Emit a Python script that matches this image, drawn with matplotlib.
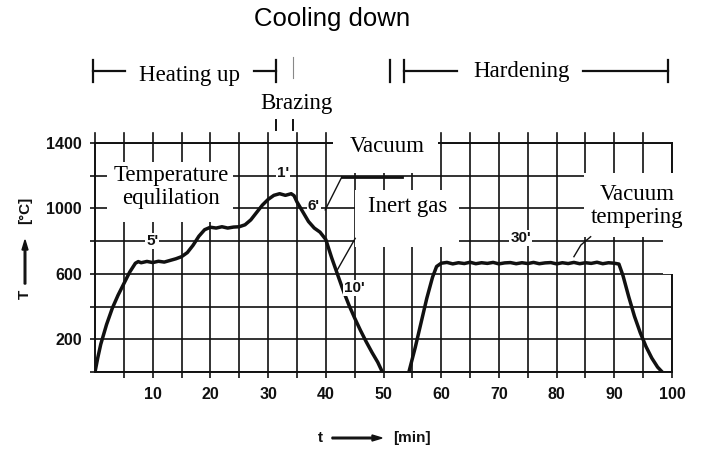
import matplotlib
matplotlib.use("Agg")
import matplotlib.pyplot as plt
from matplotlib.patches import Rectangle, FancyArrow
from matplotlib.ticker import FixedLocator, NullFormatter
from matplotlib.font_manager import FontProperties

# ---------------- data ----------------
brazing_t = [0, 0.5, 1, 2, 3, 4, 5, 6, 7, 7.5, 8, 9, 10, 11, 12, 13, 14, 15, 16, 17,
             18, 19, 20, 21, 22, 23, 24, 25, 26, 27, 28, 29, 30, 31, 32, 33, 34, 34.5,
             35, 36, 37, 38, 39, 40, 41, 42, 43, 44, 45, 46, 47, 48, 49, 49.8]
brazing_T = [0, 90, 170, 290, 390, 470, 540, 610, 665, 675, 668, 676, 669, 677, 672, 682,
             692, 705, 730, 775, 830, 870, 885, 880, 888, 880, 886, 888, 900, 930, 975,
             1020, 1055, 1080, 1090, 1080, 1090, 1078, 1040, 980, 920, 880, 855, 810,
             700, 600, 500, 410, 330, 255, 185, 120, 60, 0]

hardening_t = [54.4, 55.5, 56.5, 57.5, 58.5, 59.2, 60, 61, 62, 63, 64, 65, 66, 67, 68,
               69, 70, 71, 72, 73, 74, 75, 76, 77, 78, 79, 80, 81, 82, 83, 84, 85, 86,
               87, 88, 89, 90, 90.8, 91.5, 92.5, 93.5, 94.5, 95.5, 96.5, 97.5, 98.3]
hardening_T = [0, 150, 300, 450, 580, 645, 665, 670, 661, 668, 663, 671, 662, 668, 664,
               670, 661, 667, 669, 662, 668, 663, 670, 662, 667, 669, 661, 668, 663, 670,
               662, 668, 664, 671, 662, 668, 665, 660, 590, 460, 340, 240, 155, 85, 30, 0]

x_labeled = [10, 20, 30, 40, 50, 60, 70, 80, 90, 100]
x_minor = [5, 15, 25, 35, 45, 55, 65, 75, 85, 95]
y_labeled = [200, 600, 1000, 1400]
y_minor = [0, 400, 800, 1200]

# phase brackets (minutes)
heat_start, heat_end = -0.35, 31.3
braze_marks = [31.4, 34.3]
cool_start, cool_end = 34.4, 51.2
hard_start, hard_end = 53.5, 99.3

# duration labels (minutes, °C)
dur_labels = ["1'", "5'", "6'", "10'", "30'"]
dur_t = [32.6, 9.9, 37.9, 45.0, 73.8]
dur_T = [1215, 800, 1015, 513, 820]

# ---------------- figure ----------------
W, H = 706, 454
fig = plt.figure(figsize=(W / 100, H / 100), dpi=100)
ax = fig.add_axes([95 / W, 82 / H, 577 / W, 229 / H])
ax.set_xlim(0, 100)
ax.set_ylim(0, 1400)

ink = "#111111"
ax.xaxis.set_major_locator(FixedLocator(x_labeled))
ax.xaxis.set_minor_locator(FixedLocator(x_minor))
ax.yaxis.set_major_locator(FixedLocator(y_labeled))
ax.yaxis.set_minor_locator(FixedLocator(y_minor))
ax.yaxis.set_minor_formatter(NullFormatter())
ax.xaxis.set_minor_formatter(NullFormatter())
ax.grid(True, which="both", color=ink, linewidth=1.2, zorder=1)
ax.set_axisbelow(True)
for s in ax.spines.values():
    s.set_color(ink)
    s.set_linewidth(1.4)

tick_font = FontProperties(family="Liberation Sans", weight="bold", size=11.5)
ax.tick_params(axis="x", which="both", direction="out", length=4.5, width=1.2,
               color=ink, pad=6)
ax.tick_params(axis="y", which="both", direction="out", length=3.8, width=1.2,
               color=ink, pad=5.5)
for lab in ax.get_xticklabels() + ax.get_yticklabels():
    lab.set_fontproperties(tick_font)
    lab.set_color(ink)


def Yp(py):  # figure pixel row -> data T
    return (372 - py) * (1400 / 229)


# grid protrusions above the top edge
for xv in sorted(x_labeled + x_minor):
    if xv < 100:
        ax.plot([xv, xv], [1400, Yp(133)], color=ink, lw=1.2, clip_on=False, zorder=1)
ax.plot([0, 0], [1400, Yp(133)], color=ink, lw=1.2, clip_on=False, zorder=1)

# curves
ax.plot(brazing_t, brazing_T, color=ink, lw=2.5, zorder=4, solid_joinstyle="round")
ax.plot(hardening_t, hardening_T, color=ink, lw=2.5, zorder=4, solid_joinstyle="round")

serif = dict(family="Liberation Serif", size=16.5, color="black")


def box(x0, x1, y0, y1):
    ax.add_patch(Rectangle((x0, y0), x1 - x0, y1 - y0, facecolor="white",
                           edgecolor="none", zorder=3, clip_on=False))


# white label boxes
box(2.1, 24.0, 917, 1285)
box(41.3, 59.5, 1217, 1560)
box(45.1, 63.0, 764, 1113)
box(84.7, 102.4, 825, 1217)
box(98.5, 102.4, 600, 870)

ax.text(13.2, 1131, "Temperature\nequlilation", ha="center", va="center",
        linespacing=1.15, zorder=5, **serif)
ax.text(50.7, 1376, "Vacuum", ha="center", va="center", zorder=5, **serif)
ax.text(54.2, 1009, "Inert gas", ha="center", va="center", zorder=5, **serif)
ax.text(93.9, 1015, "Vacuum\ntempering", ha="center", va="center",
        linespacing=1.15, zorder=5, clip_on=False, **serif)

# pointer lines
ax.plot([39.9, 42.8], [991, 1194], color=ink, lw=1.0, zorder=5)
ax.plot([42.8, 53.2], [1194, 1194], color=ink, lw=2.0, zorder=5)
ax.plot([45.1, 42.0], [817, 624], color=ink, lw=1.0, zorder=5)
ax.plot([85.9, 84.2, 83.0], [827, 776, 705], color=ink, lw=1.0, zorder=5)

# duration labels
for lbl, xt, yt in zip(dur_labels, dur_t, dur_T):
    ax.text(xt, yt, lbl, ha="center", va="center", zorder=6,
            family="Liberation Sans", weight="bold", size=11, color=ink,
            bbox=dict(facecolor="white", edgecolor="none", pad=0.8))

# ---------------- header (phases) ----------------
yl = Yp(71)
yb0, yb1 = Yp(60), Yp(82)
kw = dict(color=ink, lw=1.6, clip_on=False, zorder=5)
ax.plot([heat_start, 5.2], [yl, yl], **kw)
ax.plot([27.6, heat_end], [yl, yl], **kw)
ax.plot([heat_start, heat_start], [yb0, yb1], **kw)
ax.plot([heat_end, heat_end], [yb0, yb1], **kw)
ax.plot([cool_start, cool_start], [Yp(57), Yp(78)], color="#888888", lw=0.8,
        clip_on=False)
ax.plot([cool_end, cool_end], [yb0, yb1], **kw)
ax.plot([hard_start, hard_start], [yb0, yb1], **kw)
ax.plot([hard_start, 62.8], [yl, yl], **kw)
ax.plot([84.5, hard_end], [yl, yl], **kw)
ax.plot([hard_end, hard_end], [yb0, yb1], **kw)
for m in braze_marks:
    ax.plot([m, m], [Yp(120), Yp(130)], color=ink, lw=1.4, clip_on=False)

ax.text(16.3, Yp(75), "Heating up", ha="center", va="center", **serif)
ax.text(34.9, Yp(103), "Brazing", ha="center", va="center", **serif)
ax.text(74.0, Yp(72), "Hardening", ha="center", va="center", **serif)
ax.text(41.1, Yp(19), "Cooling down", ha="center", va="center",
        family="Liberation Sans", size=18.5, color="black")


# ---------------- axis labels ----------------
def fx(px):
    return px / W


def fy(py):
    return 1 - py / H


lab_font = dict(family="Liberation Sans", weight="bold", size=11, color=ink)
fig.text(fx(320), fy(438), "t", ha="center", va="center", **lab_font)
fig.text(fx(393), fy(438), "[min]", ha="left", va="center", **lab_font)
fig.patches.append(FancyArrow(
    fx(332), fy(438), fx(382) - fx(332), 0, width=1.6 / H, head_width=6 / H,
    head_length=10 / W, length_includes_head=True, color=ink,
    transform=fig.transFigure, figure=fig))

fig.text(fx(25), fy(294), "T", ha="center", va="center", rotation=90, **lab_font)
fig.text(fx(25), fy(210), "[°C]", ha="center", va="center", rotation=90, **lab_font)
fig.patches.append(FancyArrow(
    fx(25), fy(284), 0, fy(240) - fy(284), width=1.6 / W, head_width=6 / W,
    head_length=10 / H, length_includes_head=True, color=ink,
    transform=fig.transFigure, figure=fig))

fig.savefig("out.png", dpi=100, facecolor="white")
